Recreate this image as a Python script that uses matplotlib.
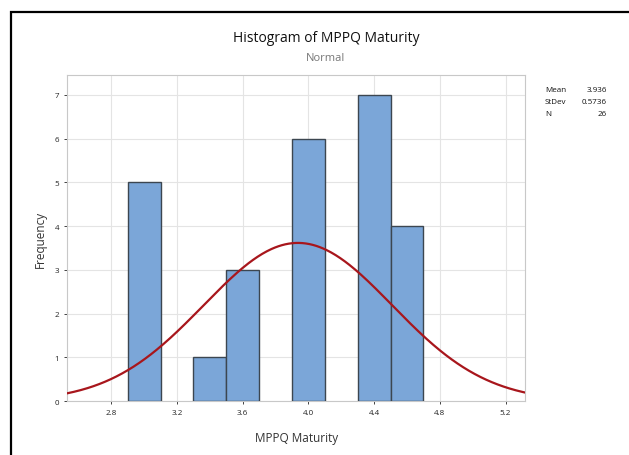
import numpy as np
import matplotlib
matplotlib.use("Agg")
import matplotlib.pyplot as plt
from matplotlib.patches import Rectangle

plt.rcParams['font.family'] = ['Open Sans', 'DejaVu Sans']

# Histogram bins (width 0.2) and counts
bin_lefts = [2.9, 3.3, 3.5, 3.9, 4.3, 4.5]
counts = [5, 1, 3, 6, 7, 4]
bin_width = 0.2

# Summary statistics
mean = 3.936
stdev = 0.5736
n = 26

xticks = [2.8, 3.2, 3.6, 4.0, 4.4, 4.8, 5.2]
yticks = [0, 1, 2, 3, 4, 5, 6, 7]

fig = plt.figure(figsize=(6.29, 4.56), dpi=100)
ax = fig.add_axes([0.1065, 0.118, 0.7285, 0.715])

ax.bar(bin_lefts, counts, width=bin_width, align='edge',
       color='#7ba6d8', edgecolor='#3c4650', linewidth=1.0, zorder=3)

xs = np.linspace(2.53, 5.32, 400)
pdf = n * bin_width / (stdev * np.sqrt(2 * np.pi)) * np.exp(-0.5 * ((xs - mean) / stdev) ** 2)
ax.plot(xs, pdf, color='#a8161c', linewidth=1.6, zorder=4)

ax.set_xlim(2.53, 5.32)
ax.set_ylim(0, 7.45)
ax.set_xticks(xticks)
ax.set_xticklabels([f"{v:.1f}" for v in xticks])
ax.set_yticks(yticks)
ax.tick_params(labelsize=5.8, colors='#222222', length=2, width=0.6)
ax.grid(True, color='#e4e4e4', linewidth=0.8, zorder=0)
for s in ax.spines.values():
    s.set_color('#c8c8c8')
    s.set_linewidth(0.8)

ax.set_xlabel('MPPQ Maturity', fontsize=8.5, color='#333333', labelpad=11)
ax.set_ylabel('Frequency', fontsize=8.5, color='#333333', labelpad=6)

fig.text(0.518, 0.916, 'Histogram of MPPQ Maturity', ha='center', va='center',
         fontsize=10, color='#111111')
fig.text(0.518, 0.872, 'Normal', ha='center', va='center',
         fontsize=8, color='#777777')

# Statistics panel
stats = [('Mean', f"{mean:.3f}"), ('StDev', f"{stdev:.4f}"), ('N', f"{n}")]
for i, (lab, val) in enumerate(stats):
    y = 1 - (91 + 12 * i) / 456
    fig.text(545 / 629, y, lab, ha='left', va='center', fontsize=5.8, color='#111111')
    fig.text(607 / 629, y, val, ha='right', va='center', fontsize=5.8, color='#111111')

# Outer frame
fig.patches.append(Rectangle((11 / 629, -0.1), 1.2, 1.1 - 13 / 456,
                             transform=fig.transFigure, fill=False,
                             edgecolor='black', linewidth=1.6))

fig.savefig('out.png', dpi=100)
